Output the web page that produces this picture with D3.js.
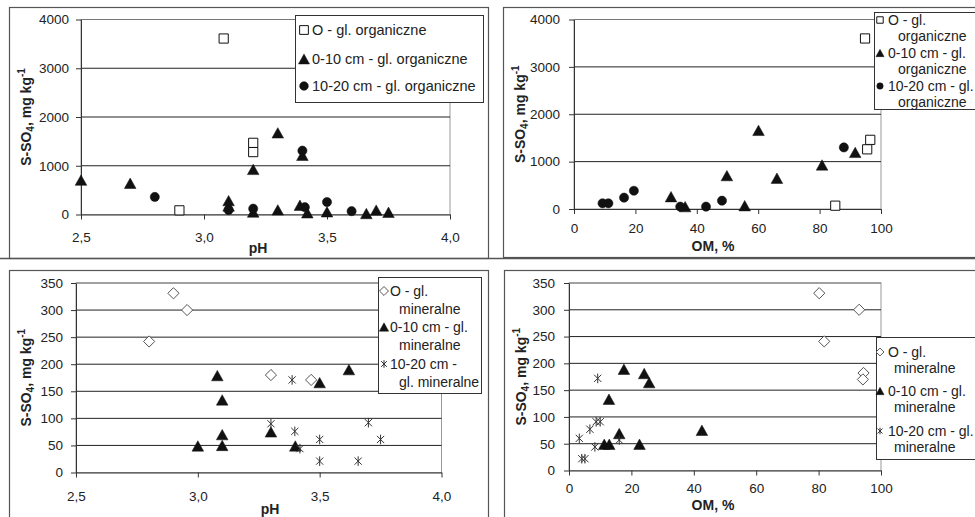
<!DOCTYPE html>
<html>
<head>
<meta charset="utf-8">
<script src="https://cdn.jsdelivr.net/npm/d3@7"></script>
<style>
  body { margin: 0; background: #fff; }
  svg { display: block; font-family: "Liberation Sans", Arial, sans-serif; }
</style>
</head>
<body>
<svg></svg>
<script>
// ---- data: [x, S-SO4 mg/kg] ----
// organic soils vs pH
let orgO_pH   = [[3.08, 3610], [3.2, 1470], [3.2, 1280], [2.9, 85]];
let org010_pH = [[2.5, 705], [2.7, 640], [3.1, 285], [3.1, 175], [3.2, 925], [3.3, 1675],
                 [3.4, 1215], [3.2, 50], [3.3, 95], [3.39, 190], [3.42, 35], [3.5, 55],
                 [3.66, 20], [3.7, 90], [3.75, 45]];
let org1020_pH = [[2.8, 360], [3.1, 90], [3.2, 120], [3.4, 1310], [3.41, 150], [3.5, 255], [3.6, 68]];
// organic soils vs OM
let orgO_OM   = [[94.8, 3600], [96.5, 1460], [95.5, 1260], [85.1, 70]];
let org010_OM = [[31.6, 260], [36.2, 50], [49.8, 705], [55.6, 70], [60.1, 1660], [66.1, 650],
                 [80.8, 930], [91.6, 1195]];
let org1020_OM = [[9.3, 120], [11.2, 120], [16.3, 240], [19.5, 385], [34.6, 50], [43, 50],
                  [48.2, 175], [87.9, 1300]];
// mineral soils vs pH
let minO_pH   = [[2.8, 242], [2.9, 331], [2.956, 300], [3.3, 180], [3.465, 171]];
let min010_pH = [[3.0, 49], [3.08, 179], [3.1, 134], [3.1, 70], [3.1, 50], [3.3, 75],
                 [3.4, 49], [3.5, 166], [3.62, 190]];
let min1020_pH = [[3.387, 171], [3.3, 90], [3.398, 76], [3.419, 44], [3.5, 61], [3.5, 21],
                  [3.658, 21], [3.7, 92], [3.75, 61]];
// mineral soils vs OM
let minO_OM   = [[80.2, 331], [93, 300], [81.8, 241], [94.4, 182], [94.2, 170]];
let min010_OM = [[17.6, 189], [24.1, 181], [25.7, 164], [12.8, 133], [11.3, 49], [12.9, 49],
                 [16.1, 69], [22.6, 49], [42.6, 75]];
let min1020_OM = [[9.2, 172], [8.7, 91], [10, 91], [6.7, 77], [3.3, 60], [8.3, 44],
                  [16.1, 57], [4.1, 22], [5.1, 22]];

let pHTicks = [2.5, 3.0, 3.5, 4.0];
let omTicks = [0, 20, 40, 60, 80, 100];
let orgTicks = [0, 1000, 2000, 3000, 4000];
let minTicks = [0, 50, 100, 150, 200, 250, 300, 350];

let legOrgOne = [["O - gl. organiczne"], ["0-10 cm - gl. organiczne"], ["10-20 cm - gl. organiczne"]];
let legOrgTwo = [["O - gl.", "organiczne"], ["0-10 cm - gl.", "organiczne"], ["10-20 cm - gl.", "organiczne"]];
let legMinA = [["O - gl.", "mineralne"], ["0-10 cm - gl.", "mineralne"], ["10-20 cm -", "gl. mineralne"]];
let legMinB = [["O - gl.", "mineralne"], ["0-10 cm - gl.", "mineralne"], ["10-20 cm - gl.", "mineralne"]];

let width = 975;
let height = 517;
let svg = d3.select("svg")
            .attr("width", width)
            .attr("height", height);

// marker outlines, s = scale
function markerPath(type, s) {
  if (type === "square") {
    let h = 4.6 * s;
    return `M${-h},${-h}H${h}V${h}H${-h}Z`;
  }
  if (type === "triangle") {
    let w = 5.8 * s, h = 5.2 * s;
    return `M0,${-h}L${w},${h}L${-w},${h}Z`;
  }
  if (type === "circle") {
    let r = 4.6 * s;
    return `M${-r},0A${r},${r} 0 1,0 ${r},0A${r},${r} 0 1,0 ${-r},0Z`;
  }
  if (type === "diamond") {
    let r = 5.6 * s;
    return `M0,${-r}L${r},0L0,${r}L${-r},0Z`;
  }
  // star: X with vertical bar
  let a = 3.6 * s, b = 4.8 * s;
  return `M${-a},${-a}L${a},${a}M${-a},${a}L${a},${-a}M0,${-b}L0,${b}`;
}

let styles = {
  square:   { fill: "#fff", stroke: "#111", sw: 1 },
  triangle: { fill: "#111", stroke: "#111", sw: 0.5 },
  circle:   { fill: "#111", stroke: "#111", sw: 0.5 },
  diamond:  { fill: "#fff", stroke: "#555", sw: 1 },
  star:     { fill: "none", stroke: "#333", sw: 1 }
};

let commaFmt = (d) => d3.format(".1f")(d).replace(".", ",");

function drawPanel(p) {
  let g = svg.append("g");

  // chart frame
  g.append("rect")
   .attr("x", p.frame[0] + 0.5).attr("y", p.frame[1] + 0.5)
   .attr("width", p.frame[2] - p.frame[0]).attr("height", p.frame[3] - p.frame[1])
   .attr("fill", "#fff").attr("stroke", "#555").attr("stroke-width", 1.2);

  let xScale = d3.scaleLinear().domain(p.xDomain).range([p.left, p.right]);
  let yScale = d3.scaleLinear().domain(p.yDomain).range([p.bottom, p.top]);

  // plot area border (grey)
  g.append("rect")
   .attr("x", p.left).attr("y", p.top)
   .attr("width", p.right - p.left).attr("height", p.bottom - p.top)
   .attr("fill", "none").attr("stroke", "#999");

  // horizontal gridlines
  g.selectAll(".grid")
   .data(p.yTicks.filter((d) => d > 0))
   .enter()
   .append("line")
   .attr("x1", p.left).attr("x2", p.right)
   .attr("y1", (d) => yScale(d)).attr("y2", (d) => yScale(d))
   .attr("stroke", (d) => d === p.yDomain[1] ? "#777" : "#222")
   .attr("stroke-width", 1);

  let xAxis = g.append("g")
               .attr("transform", "translate(0," + p.bottom + ")")
               .call(d3.axisBottom(xScale).tickValues(p.xTicks).tickFormat(p.xFmt)
                       .tickSizeInner(5).tickSizeOuter(0).tickPadding(p.xPad));
  let yAxis = g.append("g")
               .attr("transform", "translate(" + p.left + ",0)")
               .call(d3.axisLeft(yScale).tickValues(p.yTicks).tickFormat(d3.format("d"))
                       .tickSizeInner(5).tickSizeOuter(0).tickPadding(p.yPad));
  [xAxis, yAxis].forEach((a) => {
    a.select(".domain").attr("stroke", "#333");
    a.selectAll(".tick line").attr("stroke", "#333");
    a.selectAll(".tick text").attr("fill", "#222")
     .style("font-size", "13.5px").style("font-family", "'Liberation Sans', Arial, sans-serif");
  });

  // axis titles
  g.append("text")
   .attr("x", p.xTitle[0]).attr("y", p.xTitle[1])
   .attr("text-anchor", "middle")
   .style("font-size", "14px").style("font-weight", "bold").attr("fill", "#222")
   .text(p.xLabel);

  let yt = g.append("text")
            .attr("transform", "translate(" + p.yTitleX + "," + ((p.top + p.bottom) / 2) + ") rotate(-90)")
            .attr("text-anchor", "middle")
            .style("font-size", "14px").style("font-weight", "bold").attr("fill", "#222");
  yt.append("tspan").text("S-SO");
  yt.append("tspan").attr("dy", 3).style("font-size", "10px").text("4");
  yt.append("tspan").attr("dy", -3).text(", mg kg");
  yt.append("tspan").attr("dy", -6).style("font-size", "10px").text("-1");

  // series
  p.series.forEach((s) => {
    let st = styles[s.type];
    g.selectAll(null)
     .data(s.data)
     .enter()
     .append("path")
     .attr("transform", (d) => "translate(" + xScale(d[0]) + "," + yScale(d[1]) + ")")
     .attr("d", markerPath(s.type, 1))
     .attr("fill", st.fill)
     .attr("stroke", st.stroke)
     .attr("stroke-width", st.sw);
  });

  // legend
  let L = p.legend;
  g.append("rect")
   .attr("x", L.box[0] + 0.5).attr("y", L.box[1] + 0.5)
   .attr("width", L.box[2] - L.box[0]).attr("height", L.box[3] - L.box[1])
   .attr("fill", "#fff").attr("stroke", "#333");
  L.labels.forEach((lines, i) => {
    let type = p.series[i].type;
    let st = styles[type];
    let yy = L.rows[i];
    g.append("path")
     .attr("transform", "translate(" + L.mx + "," + yy + ")")
     .attr("d", markerPath(type, L.ms))
     .attr("fill", st.fill).attr("stroke", st.stroke).attr("stroke-width", st.sw);
    lines.forEach((t, j) => {
      g.append("text")
       .attr("x", j === 0 ? L.tx : L.tx + L.indent)
       .attr("y", yy + j * L.lh + 5)
       .style("font-size", L.fs + "px").attr("fill", "#222")
       .text(t);
    });
  });
}

drawPanel({
  frame: [9, 7, 488, 258],
  left: 81, right: 450, top: 19.5, bottom: 214.5,
  xDomain: [2.5, 4.0], yDomain: [0, 4000],
  xTicks: pHTicks, yTicks: orgTicks, xFmt: commaFmt,
  xPad: 13, yPad: 7,
  xLabel: "pH", xTitle: [258, 253], yTitleX: 31,
  series: [
    { type: "square", data: orgO_pH },
    { type: "triangle", data: org010_pH },
    { type: "circle", data: org1020_pH }
  ],
  legend: { box: [295, 15, 483, 102], mx: 304, tx: 312, ms: 0.95, fs: 14.5, rows: [30, 59, 86], lh: 0, indent: 0, labels: legOrgOne }
});

drawPanel({
  frame: [503, 7, 990, 257],
  left: 574, right: 881, top: 19.5, bottom: 209,
  xDomain: [0, 100], yDomain: [0, 4000],
  xTicks: omTicks, yTicks: orgTicks, xFmt: d3.format("d"),
  xPad: 9, yPad: 9,
  xLabel: "OM, %", xTitle: [713, 251], yTitleX: 525,
  series: [
    { type: "square", data: orgO_OM },
    { type: "triangle", data: org010_OM },
    { type: "circle", data: org1020_OM }
  ],
  legend: { box: [874, 12, 990, 109], mx: 880, tx: 888, ms: 0.7, fs: 14, rows: [20, 53, 86], lh: 15.5, indent: 10, labels: legOrgTwo }
});

drawPanel({
  frame: [9, 270, 488, 530],
  left: 76, right: 441.5, top: 283, bottom: 472.5,
  xDomain: [2.5, 4.0], yDomain: [0, 350],
  xTicks: pHTicks, yTicks: minTicks, xFmt: commaFmt,
  xPad: 14, yPad: 8,
  xLabel: "pH", xTitle: [270, 514], yTitleX: 31,
  series: [
    { type: "diamond", data: minO_pH },
    { type: "triangle", data: min010_pH },
    { type: "star", data: min1020_pH }
  ],
  legend: { box: [378, 277, 481, 393], mx: 384, tx: 390, ms: 0.8, fs: 14, rows: [291, 327, 364], lh: 17.5, indent: 9, labels: legMinA }
});

drawPanel({
  frame: [504, 270, 990, 530],
  left: 569, right: 881, top: 283, bottom: 470.5,
  xDomain: [0, 100], yDomain: [0, 350],
  xTicks: omTicks, yTicks: minTicks, xFmt: d3.format("d"),
  xPad: 8, yPad: 9,
  xLabel: "OM, %", xTitle: [713, 510], yTitleX: 526,
  series: [
    { type: "diamond", data: minO_OM },
    { type: "triangle", data: min010_OM },
    { type: "star", data: min1020_OM }
  ],
  legend: { box: [876, 337, 990, 459], mx: 880, tx: 888, ms: 0.7, fs: 14, rows: [352, 391, 431], lh: 15.5, indent: 6, labels: legMinB }
});

// separator under the top row
svg.append("line")
   .attr("x1", 0).attr("x2", width)
   .attr("y1", 258.5).attr("y2", 258.5)
   .attr("stroke", "#555").attr("stroke-width", 1.5);
</script>
</body>
</html>
